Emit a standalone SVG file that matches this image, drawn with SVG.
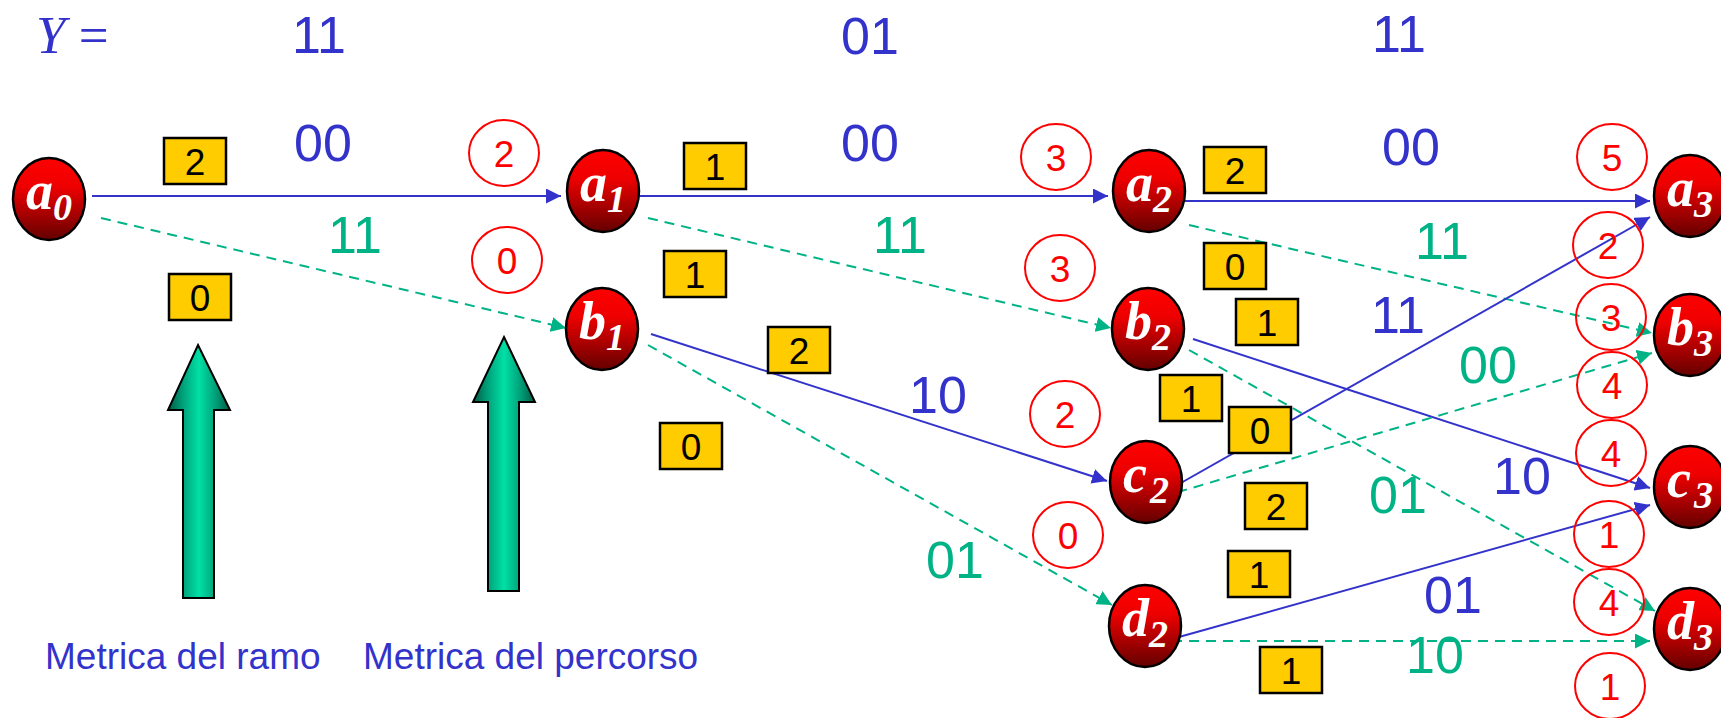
<svg xmlns="http://www.w3.org/2000/svg" width="1721" height="718" viewBox="0 0 1721 718">
<defs>
<linearGradient id="redg" x1="0" y1="0" x2="0" y2="1">
<stop offset="0" stop-color="#ff0000"/>
<stop offset="0.35" stop-color="#ee0000"/>
<stop offset="1" stop-color="#640000"/>
</linearGradient>
<linearGradient id="greeng" x1="0" y1="0" x2="1" y2="0">
<stop offset="0" stop-color="#005a44"/>
<stop offset="0.25" stop-color="#00a47c"/>
<stop offset="0.5" stop-color="#00e0a6"/>
<stop offset="0.75" stop-color="#00a47c"/>
<stop offset="1" stop-color="#005a44"/>
</linearGradient>
<marker id="ab" markerUnits="userSpaceOnUse" markerWidth="15" markerHeight="15" refX="15" refY="7.5" orient="auto">
<path d="M0,0 L15,7.5 L0,15 z" fill="#3333cc"/>
</marker>
<marker id="ag" markerUnits="userSpaceOnUse" markerWidth="15" markerHeight="15" refX="15" refY="7.5" orient="auto">
<path d="M0,0 L15,7.5 L0,15 z" fill="#00b386"/>
</marker>
</defs>
<style>
.node ellipse{fill:url(#redg);stroke:#000;stroke-width:2.5}
.lbl{font-family:"Liberation Serif",serif;font-style:italic;font-weight:bold;fill:#fff;font-size:54px}
.sub{font-size:38px}
.blu{stroke:#3333cc;stroke-width:2;fill:none;marker-end:url(#ab)}
.grn{stroke:#00b386;stroke-width:2;fill:none;stroke-dasharray:10 7;marker-end:url(#ag)}
.tb{font-family:"Liberation Sans",Arial,sans-serif;font-size:52px;fill:#3333cc;text-anchor:middle}
.tg{font-family:"Liberation Sans",Arial,sans-serif;font-size:52px;fill:#00b386;text-anchor:middle}
.box rect{fill:#ffcc00;stroke:#000;stroke-width:2.5}
.box text{font-family:"Liberation Sans",Arial,sans-serif;font-size:37px;fill:#000;text-anchor:middle}
.pm ellipse{fill:none;stroke:#ff0000;stroke-width:2}
.pm text{font-family:"Liberation Sans",Arial,sans-serif;font-size:37px;fill:#ff0000;text-anchor:middle}
.cap{font-family:"Liberation Sans",Arial,sans-serif;font-size:37px;fill:#3333cc}
.bigarrow{fill:url(#greeng);stroke:#000;stroke-width:2}
</style>

<g id="header">
<text x="36" y="53" font-family="Liberation Serif,serif" font-size="53" fill="#3333cc"><tspan font-style="italic">Y</tspan> =</text>
<text class="tb" x="319" y="53">11</text>
<text class="tb" x="870" y="54">01</text>
<text class="tb" x="1399" y="52">11</text>
</g>

<g id="connectors">
<line class="blu" x1="92" y1="196" x2="561" y2="196"/>
<line class="grn" x1="101" y1="218" x2="566" y2="328"/>
<line class="blu" x1="639" y1="196" x2="1108" y2="196"/>
<line class="grn" x1="648" y1="218" x2="1111" y2="328"/>
<line class="blu" x1="651" y1="334" x2="1107" y2="481"/>
<line class="grn" x1="648" y1="345" x2="1112" y2="605"/>
<line class="blu" x1="1179" y1="201" x2="1650" y2="201"/>
<line class="grn" x1="1189" y1="225" x2="1652" y2="333"/>
<line class="blu" x1="1193" y1="339" x2="1650" y2="488"/>
<line class="grn" x1="1189" y1="350" x2="1655" y2="611"/>
<line class="blu" x1="1172" y1="488" x2="1650" y2="217"/>
<line class="grn" x1="1161" y1="497" x2="1652" y2="353"/>
<line class="blu" x1="1179" y1="637" x2="1650" y2="505"/>
<line class="grn" x1="1172" y1="641" x2="1650" y2="641"/>
</g>

<g id="edge-labels">
<text class="tb" x="323" y="161">00</text>
<text class="tg" x="355" y="253">11</text>
<text class="tb" x="870" y="161">00</text>
<text class="tg" x="900" y="253">11</text>
<text class="tb" x="938" y="413">10</text>
<text class="tg" x="955" y="578">01</text>
<text class="tb" x="1411" y="165">00</text>
<text class="tg" x="1442" y="259">11</text>
<text class="tb" x="1398" y="333">11</text>
<text class="tg" x="1488" y="383">00</text>
<text class="tg" x="1398" y="513">01</text>
<text class="tb" x="1522" y="494">10</text>
<text class="tb" x="1453" y="613">01</text>
<text class="tg" x="1435" y="673">10</text>
</g>

<g id="branch-metrics" class="box">
<rect x="164" y="138" width="62" height="46"/><text x="195" y="175">2</text>
<rect x="169" y="274" width="62" height="46"/><text x="200" y="311">0</text>
<rect x="684" y="143" width="62" height="46"/><text x="715" y="180">1</text>
<rect x="664" y="251" width="62" height="46"/><text x="695" y="288">1</text>
<rect x="768" y="327" width="62" height="46"/><text x="799" y="364">2</text>
<rect x="660" y="423" width="62" height="46"/><text x="691" y="460">0</text>
<rect x="1204" y="147" width="62" height="46"/><text x="1235" y="184">2</text>
<rect x="1204" y="243" width="62" height="46"/><text x="1235" y="280">0</text>
<rect x="1236" y="299" width="62" height="46"/><text x="1267" y="336">1</text>
<rect x="1160" y="375" width="62" height="46"/><text x="1191" y="412">1</text>
<rect x="1229" y="407" width="62" height="46"/><text x="1260" y="444">0</text>
<rect x="1245" y="483" width="62" height="46"/><text x="1276" y="520">2</text>
<rect x="1228" y="551" width="62" height="46"/><text x="1259" y="588">1</text>
<rect x="1260" y="647" width="62" height="46"/><text x="1291" y="684">1</text>
</g>

<g id="path-metrics" class="pm">
<ellipse cx="504" cy="153" rx="35" ry="33"/><text x="504" y="167">2</text>
<ellipse cx="507" cy="260" rx="35" ry="33"/><text x="507" y="274">0</text>
<ellipse cx="1056" cy="157" rx="35" ry="33"/><text x="1056" y="171">3</text>
<ellipse cx="1060" cy="268" rx="35" ry="33"/><text x="1060" y="282">3</text>
<ellipse cx="1065" cy="414" rx="35" ry="33"/><text x="1065" y="428">2</text>
<ellipse cx="1068" cy="535" rx="35" ry="33"/><text x="1068" y="549">0</text>
<ellipse cx="1612" cy="157" rx="35" ry="33"/><text x="1612" y="171">5</text>
<ellipse cx="1608" cy="245" rx="35" ry="33"/><text x="1608" y="259">2</text>
<ellipse cx="1611" cy="317" rx="35" ry="33"/><text x="1611" y="331">3</text>
<ellipse cx="1612" cy="385" rx="35" ry="33"/><text x="1612" y="399">4</text>
<ellipse cx="1611" cy="453" rx="35" ry="33"/><text x="1611" y="467">4</text>
<ellipse cx="1609" cy="534" rx="35" ry="33"/><text x="1609" y="548">1</text>
<ellipse cx="1609" cy="602" rx="35" ry="33"/><text x="1609" y="616">4</text>
<ellipse cx="1610" cy="686" rx="35" ry="33"/><text x="1610" y="700">1</text>
</g>

<g id="node-a0" class="node"><ellipse cx="49" cy="199" rx="36" ry="41"/><text class="lbl" x="26" y="209">a<tspan class="sub" x="53" y="220">0</tspan></text></g>
<g id="node-a1" class="node"><ellipse cx="603" cy="191" rx="36" ry="41"/><text class="lbl" x="580" y="201">a<tspan class="sub" x="607" y="212">1</tspan></text></g>
<g id="node-b1" class="node"><ellipse cx="602" cy="329" rx="36" ry="41"/><text class="lbl" x="579" y="339">b<tspan class="sub" x="606" y="350">1</tspan></text></g>
<g id="node-a2" class="node"><ellipse cx="1149" cy="191" rx="36" ry="41"/><text class="lbl" x="1126" y="201">a<tspan class="sub" x="1153" y="212">2</tspan></text></g>
<g id="node-b2" class="node"><ellipse cx="1148" cy="329" rx="36" ry="41"/><text class="lbl" x="1125" y="339">b<tspan class="sub" x="1152" y="350">2</tspan></text></g>
<g id="node-c2" class="node"><ellipse cx="1146" cy="482" rx="36" ry="41"/><text class="lbl" x="1123" y="492">c<tspan class="sub" x="1150" y="503">2</tspan></text></g>
<g id="node-d2" class="node"><ellipse cx="1145" cy="626" rx="36" ry="41"/><text class="lbl" x="1122" y="636">d<tspan class="sub" x="1149" y="647">2</tspan></text></g>
<g id="node-a3" class="node"><ellipse cx="1690" cy="196" rx="36" ry="41"/><text class="lbl" x="1667" y="206">a<tspan class="sub" x="1694" y="217">3</tspan></text></g>
<g id="node-b3" class="node"><ellipse cx="1690" cy="335" rx="36" ry="41"/><text class="lbl" x="1667" y="345">b<tspan class="sub" x="1694" y="356">3</tspan></text></g>
<g id="node-c3" class="node"><ellipse cx="1690" cy="487" rx="36" ry="41"/><text class="lbl" x="1667" y="497">c<tspan class="sub" x="1694" y="508">3</tspan></text></g>
<g id="node-d3" class="node"><ellipse cx="1690" cy="629" rx="36" ry="41"/><text class="lbl" x="1667" y="639">d<tspan class="sub" x="1694" y="650">3</tspan></text></g>

<g id="legend-branch">
<polygon class="bigarrow" points="198,345 230,410 214,410 214,598 183,598 183,410 168,410"/>
<text class="cap" x="45" y="669">Metrica del ramo</text>
</g>
<g id="legend-path">
<polygon class="bigarrow" points="504,337 535,402 519,402 519,591 488,591 488,402 473,402"/>
<text class="cap" x="363" y="669">Metrica del percorso</text>
</g>
</svg>
